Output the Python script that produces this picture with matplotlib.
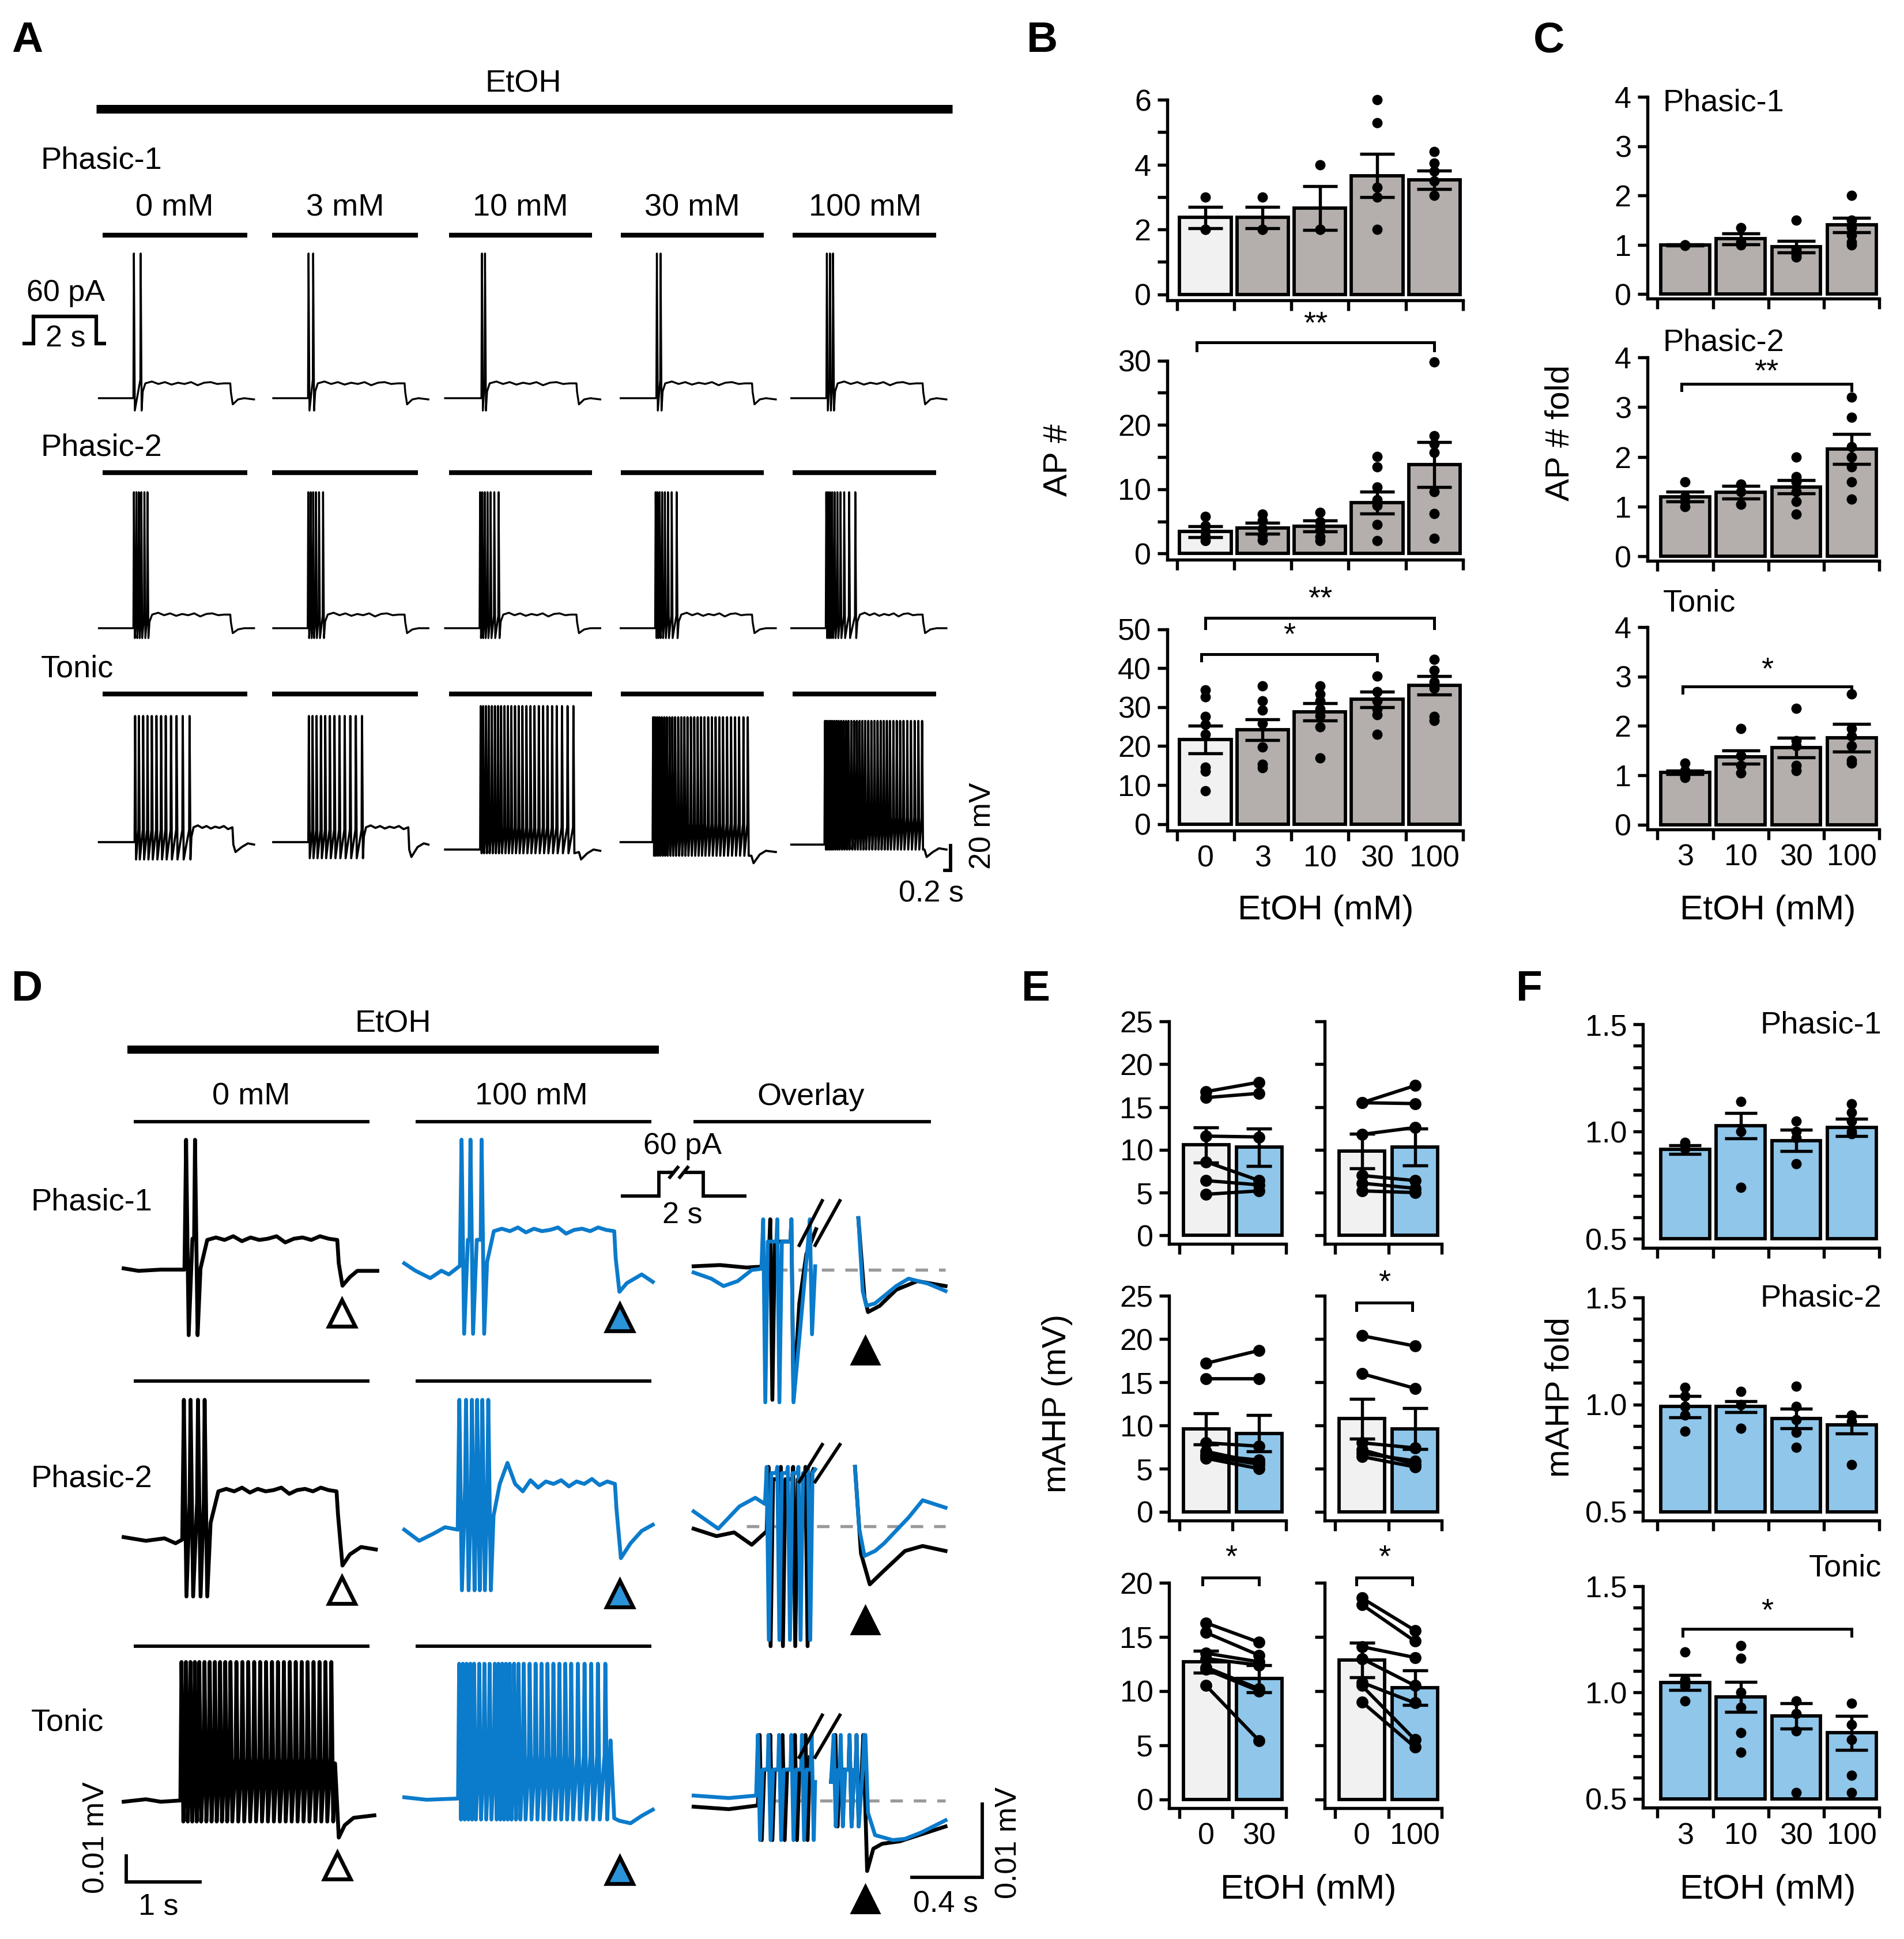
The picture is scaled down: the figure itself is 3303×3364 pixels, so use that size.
import numpy as np
import matplotlib
matplotlib.use("Agg")
import matplotlib.pyplot as plt
from matplotlib.lines import Line2D

plt.rcParams['font.family'] = ['Liberation Sans', 'DejaVu Sans']
plt.rcParams['axes.unicode_minus'] = False

# ---------------- bar chart data ----------------
conc_b = ['0', '3', '10', '30', '100']
conc_c = ['3', '10', '30', '100']

b_p1_mean = [2.37, 2.37, 2.66, 3.66, 3.53]
b_p1_sem = [0.33, 0.33, 0.67, 0.67, 0.28]
b_p1_pts = [[3, 2, 2], [3, 2, 2], [4, 2, 2], [6, 5.3, 3.3, 3.0, 2.0], [4.4, 4.05, 3.8, 3.5, 3.05]]

b_p2_mean = [3.43, 3.94, 4.28, 7.9, 13.8]
b_p2_sem = [0.85, 0.86, 0.86, 1.7, 3.5]
b_p2_pts = [[5.8, 4.3, 3.4, 2.6, 2.0], [6.1, 5.1, 3.9, 2.8, 2.1], [6.4, 5.0, 3.7, 2.6, 2.0],
            [15.1, 13.5, 10.3, 8.4, 7.5, 4.5, 2.0], [29.8, 18.3, 17.1, 15.7, 9.6, 6.2, 2.4]]

b_tn_mean = [21.7, 24.2, 28.8, 32.0, 35.6]
b_tn_sem = [3.6, 2.6, 2.2, 2.0, 2.4]
b_tn_pts = [[34.4, 32.6, 27.6, 25.5, 23.0, 14.6, 13.6, 8.5], [35.4, 31.6, 29.2, 25.9, 19.8, 15.3, 14.5],
            [35.4, 33.4, 31.6, 29.5, 27.8, 24.9, 17.0], [38.0, 34.0, 31.6, 29.5, 28.0, 23.0],
            [42.2, 39.4, 36.5, 34.8, 27.6, 26.6]]

c_p1_mean = [1.0, 1.12, 0.96, 1.4]
c_p1_sem = [0.01, 0.11, 0.12, 0.15]
c_p1_pts = [[1.0, 0.98, 1.0], [1.35, 1.05, 1.0], [1.5, 0.9, 0.8, 0.75], [2.0, 1.5, 1.35, 1.2, 1.05, 1.0]]

c_p2_mean = [1.2, 1.29, 1.4, 2.16]
c_p2_sem = [0.1, 0.13, 0.13, 0.3]
c_p2_pts = [[1.5, 1.2, 1.1, 1.0], [1.45, 1.3, 1.05], [2.0, 1.6, 1.5, 1.3, 1.1, 0.85],
            [3.2, 2.8, 2.2, 2.0, 1.8, 1.5, 1.15]]

c_tn_mean = [1.06, 1.37, 1.56, 1.76]
c_tn_sem = [0.04, 0.13, 0.2, 0.28]
c_tn_pts = [[1.25, 1.1, 1.0, 0.95], [1.95, 1.4, 1.2, 1.05], [2.35, 1.7, 1.6, 1.2, 1.1],
            [2.65, 1.95, 1.8, 1.6, 1.3, 1.25]]

# mAHP (mV), paired cells: control (0 mM) vs EtOH
e_p1_30_mean, e_p1_30_sem = [10.56, 10.3], [2.05, 2.2]
e_p1_30_ctrl = [16.8, 16.1, 11.6, 8.6, 6.4, 4.8]
e_p1_30_etoh = [17.9, 16.6, 11.5, 6.4, 5.9, 5.2]
e_p1_100_mean, e_p1_100_sem = [9.86, 10.3], [2.0, 2.15]
e_p1_100_ctrl = [15.5, 15.5, 11.8, 7.0, 6.1, 5.2]
e_p1_100_etoh = [17.5, 15.4, 12.6, 6.4, 5.5, 5.0]
e_p2_30_mean, e_p2_30_sem = [9.64, 9.09], [1.8, 2.1]
e_p2_30_ctrl = [17.2, 15.4, 8.0, 7.0, 6.5, 6.2, 6.6]
e_p2_30_etoh = [18.7, 15.4, 7.6, 5.7, 5.5, 5.0, 6.0]
e_p2_100_mean, e_p2_100_sem = [10.8, 9.64], [2.3, 2.35]
e_p2_100_ctrl = [20.4, 16.0, 8.0, 7.2, 6.4, 6.8]
e_p2_100_etoh = [19.2, 14.3, 7.4, 5.5, 5.2, 5.9]
e_tn_30_mean, e_tn_30_sem = [12.7, 11.16], [1.0, 1.25]
e_tn_30_ctrl = [16.3, 15.4, 13.5, 13.0, 12.2, 10.5, 12.0]
e_tn_30_etoh = [14.5, 13.3, 12.7, 12.4, 10.2, 5.4, 10.0]
e_tn_100_mean, e_tn_100_sem = [12.87, 10.3], [1.6, 1.6]
e_tn_100_ctrl = [18.6, 18.0, 14.1, 13.0, 10.8, 10.5, 9.0]
e_tn_100_etoh = [15.6, 14.6, 13.1, 10.5, 8.9, 5.5, 4.8]

f_p1_mean = [0.917, 1.028, 0.958, 1.02]
f_p1_sem = [0.02, 0.06, 0.05, 0.04]
f_p1_pts = [[0.95, 0.92], [1.14, 1.0, 0.74], [1.05, 1.0, 0.97, 0.85], [1.13, 1.09, 1.05, 1.0, 0.99]]
f_p2_mean = [0.99, 0.99, 0.935, 0.905]
f_p2_sem = [0.05, 0.025, 0.045, 0.04]
f_p2_pts = [[1.08, 1.04, 0.99, 0.95, 0.875], [1.06, 1.0, 0.89], [1.086, 0.99, 0.93, 0.87, 0.8],
            [0.95, 0.92, 0.72]]
f_tn_mean = [1.046, 0.98, 0.89, 0.81]
f_tn_sem = [0.035, 0.07, 0.06, 0.08]
f_tn_pts = [[1.19, 1.06, 1.03, 0.96], [1.22, 1.16, 1.0, 0.93, 0.81, 0.72], [0.96, 0.9, 0.82, 0.53],
            [0.95, 0.85, 0.78, 0.61, 0.53]]

# ---------------- trace data (s, mV) ----------------
a_p1_spikes = [[1.12, 1.34], [1.13, 1.28], [1.18, 1.28], [1.16, 1.28], [1.14, 1.24, 1.34]]
a_p2_spikes = [[1.12, 1.2, 1.28, 1.36, 1.46, 1.56],
               [1.12, 1.2, 1.28, 1.37, 1.47, 1.6],
               [1.12, 1.19, 1.27, 1.36, 1.46, 1.58, 1.72],
               [1.12, 1.18, 1.25, 1.33, 1.42, 1.52, 1.64, 1.8],
               [1.12, 1.18, 1.24, 1.31, 1.39, 1.48, 1.58, 1.7, 1.86, 2.06]]
a_tn_spikes = [[1.16, 1.28, 1.42, 1.56, 1.7, 1.85, 2.0, 2.15, 2.32, 2.5, 2.7, 2.92],
               [1.14, 1.26, 1.39, 1.53, 1.67, 1.82, 1.97, 2.13, 2.3, 2.48, 2.66, 2.86],
               [1.14, 1.22, 1.31, 1.4, 1.5, 1.6, 1.7, 1.8, 1.91, 2.02, 2.13, 2.25, 2.37, 2.49,
                2.62, 2.75, 2.88, 3.02, 3.16, 3.3, 3.45, 3.6, 3.77, 3.95, 4.14],
               [1.04, 1.1, 1.17, 1.24, 1.32, 1.4, 1.48, 1.57, 1.66, 1.75, 1.85, 1.95, 2.05, 2.15,
                2.26, 2.37, 2.48, 2.59, 2.7, 2.82, 2.94, 3.06, 3.18, 3.3, 3.43, 3.56, 3.69, 3.82,
                3.96, 4.1],
               [1.08, 1.13, 1.19, 1.25, 1.31, 1.38, 1.45, 1.52, 1.6, 1.68, 1.76, 1.84, 1.93, 2.02,
                2.11, 2.2, 2.29, 2.38, 2.48, 2.58, 2.68, 2.78, 2.88, 2.98, 3.08, 3.18, 3.29, 3.4,
                3.51, 3.62, 3.74, 3.86, 3.98, 4.1, 4.22]]
a_tn_rest = [-60, -60, -66, -60, -62]
a_tn_peak = [42, 42, 50, 41, 38]
a_tn_trough = [-74, -73, -69, -71, -66]
a_tn_thr = [-50, -50, -48, -45, -40]
a_tn_plat = [-48, -48, None, None, None]
a_tn_off = [4.32, 4.37, 4.3, 4.2, 4.28]
a_tn_dip = [-68, -72, -74, -77, -72]
a_tn_end = [-62, -62, -67, -68, -66]
a_ripple = [1.5, -0.5, 1.0, -1.0, 0.5, -0.5, 1.0, -1.5, 0.5, 1.0, -0.5, 0.0]

d_p1_ctrl_spikes = [0.83, 0.95]
d_p1_etoh_spikes = [0.76, 0.88, 1.03]
d_p2_ctrl_spikes = [0.80, 0.89, 0.99, 1.08]
d_p2_etoh_spikes = [0.73, 0.82, 0.90, 0.97, 1.04, 1.12]
d_tn_ctrl_spikes = [0.77, 0.83, 0.89, 0.95, 1.01, 1.08, 1.15, 1.22, 1.29, 1.36, 1.43, 1.51, 1.59,
                    1.67, 1.75, 1.83, 1.91, 1.99, 2.07, 2.15, 2.23, 2.31, 2.39, 2.47, 2.55, 2.63,
                    2.71, 2.79]
d_tn_etoh_spikes = [0.73, 0.78, 0.83, 0.88, 0.93, 1.0, 1.07, 1.14, 1.21, 1.26, 1.31, 1.36, 1.41,
                    1.47, 1.53, 1.6, 1.68, 1.76, 1.84, 1.92, 2.0, 2.08, 2.16, 2.24, 2.33, 2.42,
                    2.51, 2.6, 2.7]
d_ripple_a = [2, 0, 3, -1, 2, 0, 1, 3, -2, 1, 2, 0, 3, 1]
d_ripple_b = [17, 0, -6, 3, -3, 2, 0, 3, -2, 2, 0, 4, -1, 2]

BLUE = '#0b7bcb'
BLUE_BAR = '#8fc6ea'
BLUE_TRI = '#2b93d8'
LIGHT = '#f1f1f1'
GRAY = '#b4afac'
LW = 1.3

fig = plt.figure(figsize=(3303 / 300, 3364 / 300), dpi=300)
W, H = 1540.0, 1568.0


def fbox(x0, y0, x1, y1):
    return [x0 / W, 1 - y1 / H, (x1 - x0) / W, (y1 - y0) / H]


def ftext(x, y, s, size=13, **kw):
    kw.setdefault('ha', 'center')
    kw.setdefault('va', 'center')
    fig.text(x / W, 1 - y / H, s, fontsize=size, **kw)


def fline(xs, ys, lw=1.4, color='k'):
    fig.add_artist(Line2D([x / W for x in xs], [1 - y / H for y in ys], transform=fig.transFigure,
                          lw=lw, color=color, solid_capstyle='butt', solid_joinstyle='miter'))


# ---------------- helpers: traces ----------------
def trace_ax(x0, y_ref, t_max, px_s, v_ref=-60.0, v_lo=-200.0, v_hi=100.0):
    ax = fig.add_axes(fbox(x0, y_ref - (v_hi - v_ref), x0 + t_max * px_s, y_ref + (v_ref - v_lo)))
    ax.set_xlim(0, t_max)
    ax.set_ylim(v_lo, v_hi)
    ax.axis('off')
    return ax


def spike_pts(spikes, peak, trough, thr, rise, fall, rec=None):
    t, v = [], []
    for i, ts in enumerate(spikes):
        if i:
            if rec is not None and t[-1] + rec < ts:
                t.append(t[-1] + rec)
                v.append(thr)
            t.append(ts)
            v.append(thr)
        t += [ts + rise, ts + rise + fall]
        v += [peak, trough]
    return t, v


def make_trace(base_t, base_v, spikes, peak, trough, thr, rise, fall, plat=None, settle=0.1,
               ripple=(), t_off=None, tail_t=(), tail_v=(), rec=None):
    t, v = list(base_t), list(base_v)
    st, sv = spike_pts(spikes, peak, trough, thr, rise, fall, rec)
    t += st
    v += sv
    if plat is not None:
        tl = t[-1]
        t += [tl + 0.3 * settle, tl + settle]
        v += [trough + 0.7 * (plat - trough), plat]
        if len(ripple):
            tr = np.linspace(tl + settle, t_off, len(ripple) + 2)[1:-1]
            t += list(tr)
            v += [plat + r for r in ripple]
        t.append(t_off)
        v.append(plat)
    t += list(tail_t)
    v += list(tail_v)
    return t, v


# ---------------- helpers: bar panels ----------------
def bar_axes(x_spine, x_c0, pitch, n, y_top, y_zero, v_top, v_bot, v_zero=0.0):
    ppu = (y_zero - y_top) / (v_top - v_zero)
    y_bot = y_zero + (v_zero - v_bot) * ppu
    x_right = n - 0.5
    ax = fig.add_axes(fbox(x_spine, y_top, x_c0 + x_right * pitch, y_bot))
    ax.set_xlim((x_spine - x_c0) / pitch, x_right)
    ax.set_ylim(v_bot, v_top)
    for s in ('top', 'right'):
        ax.spines[s].set_visible(False)
    for s in ('left', 'bottom'):
        ax.spines[s].set_linewidth(LW)
    ax.set_xticks(np.arange(n + 1) - 0.5)
    ax.set_xticklabels([])
    ax.tick_params(which='major', length=4.2, width=LW, labelsize=12.5, pad=2.5)
    ax.tick_params(axis='x', which='minor', length=0, labelsize=12.5, pad=6)
    ax.patch.set_alpha(0)
    return ax


def set_yticks(ax, ticks, labels):
    ax.set_yticks(ticks)
    ax.set_yticklabels(labels)


def set_xlabels(ax, labels):
    ax.set_xticks(np.arange(len(labels)), minor=True)
    ax.set_xticklabels(labels, minor=True)


def draw_bars(ax, means, sems, pts, colors, width, capsize, base=0.0, ms=4.3):
    x = np.arange(len(means))
    ax.bar(x, np.array(means) - base, bottom=base, width=width, color=colors,
           edgecolor='k', linewidth=1.4, zorder=2)
    ax.errorbar(x, means, yerr=sems, fmt='none', ecolor='k', elinewidth=LW,
                capsize=capsize, capthick=LW, zorder=4)
    for xi, p in zip(x, pts):
        ax.plot(np.full(len(p), xi), p, 'o', color='k', ms=ms, mew=0, zorder=3, clip_on=False)


def bracket(ax, x0, x1, y, drop, star, y_star):
    ax.plot([x0, x0, x1, x1], [y - drop, y, y, y - drop], color='k', lw=1.2, clip_on=False,
            solid_joinstyle='miter')
    ax.text((x0 + x1) / 2, y_star, star, ha='center', va='center', fontsize=13)


# ================= Panel A =================
ftext(22, 33, 'A', size=18, weight='bold')
ftext(423, 68, 'EtOH')
fline([78, 770], [88, 88], lw=3.6)
a_conc = ['0 mM', '3 mM', '10 mM', '30 mM', '100 mM']
for cx, lab in zip([141, 279, 421, 560, 700], a_conc):
    ftext(cx, 168, lab)
a_bar_x = [(83, 200), (220, 338), (363, 479), (502, 618), (641, 757)]
for yb in (190, 382, 561):
    for xa, xb in a_bar_x:
        fline([xa, xb], [yb, yb], lw=2.0)
ftext(33, 130, 'Phasic-1', ha='left')
ftext(33, 362, 'Phasic-2', ha='left')
ftext(33, 541, 'Tonic', ha='left')

# stimulation protocol
fline([18, 27, 27, 78, 78, 86], [278, 278, 256, 256, 278, 278], lw=1.5)
ftext(53, 237, '60 pA', size=12.5)
ftext(53, 274, '2 s', size=12.5)

A_PX_S = 25.0
a_x0 = [80, 221, 360, 502, 640]
for k in range(5):
    sp = a_p1_spikes[k]
    ax = trace_ax(a_x0[k], 322, 5.1, A_PX_S)
    t, v = make_trace([0, sp[0] - 0.005], [-60, -60], sp, 57, -70, -45, 0.012, 0.03,
                      plat=-48, settle=0.12, ripple=a_ripple, t_off=4.25,
                      tail_t=[4.27, 4.33, 4.5, 4.7, 5.02], tail_v=[-55, -65, -61, -60, -61])
    ax.plot(t, v, color='k', lw=0.8, clip_on=False)

    sp = a_p2_spikes[k]
    ax = trace_ax(a_x0[k], 508, 5.1, A_PX_S)
    t, v = make_trace([0, sp[0] - 0.005], [-60, -60], sp, 50, -68, -50, 0.012, 0.03,
                      plat=-49, settle=0.12, ripple=a_ripple, t_off=4.25,
                      tail_t=[4.27, 4.33, 4.5, 4.7, 5.02], tail_v=[-55, -64, -61, -60, -60])
    ax.plot(t, v, color='k', lw=0.8, clip_on=False)

    sp = a_tn_spikes[k]
    ax = trace_ax(a_x0[k], 681, 5.1, A_PX_S)
    off = a_tn_off[k]
    rest = a_tn_rest[k]
    t, v = make_trace([0, sp[0] - 0.005], [rest, rest], sp, a_tn_peak[k], a_tn_trough[k],
                      a_tn_thr[k], 0.012, 0.03, plat=a_tn_plat[k], settle=0.1,
                      ripple=a_ripple[:8], t_off=off,
                      tail_t=[off + 0.03, off + 0.1, off + 0.3, off + 0.5, 5.02],
                      tail_v=[a_tn_dip[k] + 6, a_tn_dip[k], a_tn_end[k] - 2, a_tn_end[k] + 1,
                              a_tn_end[k]])
    ax.plot(t, v, color='k', lw=0.9, clip_on=False)
    if k == 4:
        # scale bar 0.2 s, 20 mV
        ax.plot([4.96, 5.16, 5.16], [-83, -83, -63], color='k', lw=1.4, clip_on=False,
                solid_joinstyle='miter')
ftext(795, 668, '20 mV', size=12.5, rotation=90)
ftext(753, 723, '0.2 s', size=12.5)

# ================= Panel D =================
ftext(22, 800, 'D', size=18, weight='bold')
ftext(318, 828, 'EtOH')
fline([103, 533], [849, 849], lw=3.4)
ftext(203, 887, '0 mM')
ftext(430, 887, '100 mM')
ftext(656, 887, 'Overlay')
fline([108, 299], [907, 907], lw=1.4)
fline([336, 527], [907, 907], lw=1.4)
fline([561, 753], [907, 907], lw=1.4)
for yb in (1117, 1331):
    fline([108, 299], [yb, yb], lw=1.4)
    fline([336, 527], [yb, yb], lw=1.4)
ftext(25, 972, 'Phasic-1', ha='left')
ftext(25, 1196, 'Phasic-2', ha='left')
ftext(25, 1393, 'Tonic', ha='left')

# stimulation protocol (with break)
fline([502, 533, 533, 545], [967, 967, 948, 948], lw=1.4)
fline([553, 569, 569, 604], [948, 948, 967, 967], lw=1.4)
fline([541, 549], [953, 943], lw=1.4)
fline([549, 557], [953, 943], lw=1.4)
ftext(552, 927, '60 pA', size=12.5)
ftext(552, 983, '2 s', size=12.5)

D_PX_S = 60.0
TR_LW = 1.6
rows_d = [
    # (x0, y_ref, color, trace, triangle (t, v), triangle face)
    (100, 1026.7, 'k',
     make_trace([0, 0.2, 0.5, 0.82], [-59, -61, -60, -60], d_p1_ctrl_spikes, 45, -113, -35,
                0.012, 0.035, plat=-36, settle=0.13, ripple=d_ripple_a, t_off=2.88,
                tail_t=[2.9, 2.95, 3.05, 3.15, 3.42], tail_v=[-55, -73, -66, -61, -61],
                rec=0.05),
     (2.94, -95), 'white'),
    (327, 1027.6, BLUE,
     make_trace([0, 0.15, 0.35, 0.5, 0.6, 0.75], [-54, -60, -66, -60, -63, -56],
                d_p1_etoh_spikes, 46, -111, -35, 0.012, 0.035, plat=-28, settle=0.13,
                ripple=d_ripple_a, t_off=2.83,
                tail_t=[2.85, 2.9, 3.0, 3.2, 3.35], tail_v=[-50, -77, -70, -63, -69],
                rec=0.05),
     (2.9, -98), BLUE_TRI),
    (100, 1245, 'k',
     make_trace([0, 0.3, 0.55, 0.7, 0.79], [-58, -61, -59, -63, -60], d_p2_ctrl_spikes, 53,
                -106, -30, 0.012, 0.035, plat=-21, settle=0.15, ripple=d_ripple_a, t_off=2.87,
                tail_t=[2.89, 2.95, 3.05, 3.2, 3.4], tail_v=[-40, -81, -72, -66, -68]),
     (2.94, -101), 'white'),
    (327, 1240, BLUE,
     make_trace([0, 0.2, 0.4, 0.55, 0.72], [-57, -66, -60, -55, -57], d_p2_etoh_spikes, 48,
                -106, -20, 0.012, 0.035, plat=-20, settle=0.12, ripple=d_ripple_b, t_off=2.84,
                tail_t=[2.86, 2.92, 3.05, 3.2, 3.35], tail_v=[-40, -80, -68, -58, -53]),
     (2.9, -109), BLUE_TRI),
    (100, 1456, 'k',
     make_trace([0, 0.3, 0.5, 0.765], [-61, -59, -61, -60], d_tn_ctrl_spikes, 52, -77, -25,
                0.01, 0.025, tail_t=[2.85, 2.9, 2.98, 3.1, 3.38],
                tail_v=[-30, -90, -80, -74, -72]),
     (2.88, -113), 'white'),
    (327, 1454.4, BLUE,
     make_trace([0, 0.3, 0.725], [-59, -61, -60], d_tn_etoh_spikes, 49, -77, -25, 0.01, 0.025,
                tail_t=[2.77, 2.78, 2.83, 2.9, 3.05, 3.2, 3.35],
                tail_v=[-30, -13, -76, -78, -80, -74, -69]),
     (2.9, -118), BLUE_TRI),
]
d_axes = []
for x0, yref, col, (t, v), (tt, tv), tri_face in rows_d:
    ax = trace_ax(x0, yref, 3.45, D_PX_S)
    ax.plot(t, v, color=col, lw=TR_LW, clip_on=False)
    ax.plot([tt], [tv], marker='^', ms=11, mfc=tri_face, mec='k', mew=1.6, clip_on=False)
    d_axes.append(ax)
# scale bar (left)
d_axes[4].plot([1.033, 0.033, 0.033], [-126, -126, -105], color='k', lw=1.4, clip_on=False,
               solid_joinstyle='miter')
ftext(78, 1486, '0.01 mV', size=12.5, rotation=90)
ftext(128, 1542, '1 s', size=12.5)

# ---- overlay column ----
OV_PX_S = 142.5
SP = dict(rise=0.005, fall=0.012, rec=0.014)
ov_rows = [
    dict(y=1024,
         ctrl=[make_trace([0, 0.15, 0.3, 0.425], [-60, -59, -61, -60], [0.43, 0.55], -22, -168,
                          -40, tail_t=[0.6, 0.64, 0.695], tail_v=[-90, -50, -30], **SP),
               ([0.935, 0.97, 0.99, 1.056, 1.15, 1.27, 1.43],
                [-21, -85, -97, -92, -79, -72, -76])],
         etoh=[make_trace([0, 0.1, 0.17, 0.25, 0.33, 0.385], [-65, -70, -76, -72, -63, -62],
                          [0.39, 0.47, 0.55], -22, -170, -40,
                          tail_t=[0.65, 0.66, 0.672, 0.69], tail_v=[-40, -22, -115, -60], **SP),
               ([0.935, 0.96, 0.98, 1.03, 1.15, 1.22, 1.33, 1.43],
                [-21, -80, -92, -90, -76, -70, -74, -80])],
         dash=(0.46, -63), brk=(-43, -7), tri=-128),
    dict(y=1236.2,
         ctrl=[make_trace([0, 0.13, 0.23, 0.33, 0.415], [-60, -66, -63, -73, -62],
                          [0.42, 0.49, 0.56, 0.63], -10, -155, -20,
                          tail_t=[0.66, 0.68], tail_v=[-20, -12], **SP),
               ([0.916, 0.95, 1.0, 1.08, 1.2, 1.3, 1.43], [-10, -80, -105, -94, -78, -74, -78])],
         etoh=[make_trace([0, 0.14, 0.26, 0.35, 0.405], [-46, -60, -42, -35, -40],
                          [0.41, 0.47, 0.53, 0.59, 0.645], -10, -150, -15,
                          tail_t=[0.675, 0.69], tail_v=[-15, -12], **SP),
               ([0.916, 0.94, 0.97, 1.03, 1.08, 1.22, 1.30, 1.43],
                [-10, -60, -82, -78, -72, -51, -37, -43])],
         dash=(0.30, -58), brk=(-22, 8), tri=-134),
    dict(y=1461,
         ctrl=[make_trace([0, 0.2, 0.365], [-60, -62, -59], [0.37, 0.43, 0.5, 0.57, 0.63], -2,
                          -87, -30, tail_t=[0.66], tail_v=[-20], **SP),
               make_trace([0.78], [-40], [0.80, 0.88, 0.92], -2, -76, -30,
                          tail_t=[0.955, 0.963, 0.985, 1.02, 1.07, 1.17, 1.3, 1.43],
                          tail_v=[-30, -2, -112, -94, -90, -88, -82, -76], **SP)],
         etoh=[make_trace([0, 0.2, 0.355], [-51, -53, -51], [0.36, 0.42, 0.48, 0.55, 0.61, 0.665],
                          -2, -87, -30, tail_t=[0.69], tail_v=[-40], **SP),
               make_trace([0.78], [-40], [0.79, 0.83, 0.88, 0.92], -2, -76, -30,
                          tail_t=[0.96, 0.968, 0.975, 0.99, 1.03, 1.13, 1.2, 1.29, 1.43],
                          tail_v=[-30, -2, -2, -65, -83, -87, -86, -81, -71], **SP)],
         dash=(0.45, -55), brk=(-20, 14), tri=-135),
]
ov_break_t = [(0.60, 0.73), (0.69, 0.83)]
ov_axes = []
for row in ov_rows:
    ax = trace_ax(561, row['y'], 1.45, OV_PX_S)
    ax.plot([row['dash'][0], 1.43], [row['dash'][1]] * 2, color='#9a9a9a', lw=1.3,
            ls=(0, (4, 3.5)), clip_on=False)
    for t, v in row['ctrl']:
        ax.plot(t, v, color='k', lw=TR_LW, clip_on=False)
    for t, v in row['etoh']:
        ax.plot(t, v, color=BLUE, lw=TR_LW, clip_on=False)
    for ta, tb in ov_break_t:
        ax.plot([ta, tb], list(row['brk']), color='k', lw=1.4, clip_on=False)
    ax.plot([0.974], [row['tri']], marker='^', ms=11, mfc='k', mec='k', mew=1.2, clip_on=False)
    ov_axes.append(ax)
ov_axes[2].plot([1.239, 1.639, 1.639], [-117, -117, -58], color='k', lw=1.4, clip_on=False,
                solid_joinstyle='miter')
ftext(816, 1490, '0.01 mV', size=12.5, rotation=90)
ftext(765, 1540, '0.4 s', size=12.5)

# ================= Panel B =================
ftext(843, 33, 'B', size=18, weight='bold')
B_X = dict(x_spine=944, x_c0=975, pitch=46.3, n=5)
b_colors = [LIGHT] + [GRAY] * 4

ax = bar_axes(y_top=80.7, y_zero=238, v_top=6, v_bot=-0.19, **B_X)
draw_bars(ax, b_p1_mean, b_p1_sem, b_p1_pts, b_colors, 0.9, 7.2)
set_yticks(ax, range(0, 7), ['0', '', '2', '', '4', '', '6'])

ax = bar_axes(y_top=291.6, y_zero=447.6, v_top=30, v_bot=-1.0, **B_X)
draw_bars(ax, b_p2_mean, b_p2_sem, b_p2_pts, b_colors, 0.9, 7.2)
set_yticks(ax, range(0, 31, 5), ['0', '', '10', '', '20', '', '30'])
bracket(ax, -0.15, 4, 32.8, 1.2, '**', 35.6)

ax = bar_axes(y_top=508.8, y_zero=666.4, v_top=50, v_bot=-1.6, **B_X)
draw_bars(ax, b_tn_mean, b_tn_sem, b_tn_pts, b_colors, 0.9, 7.2)
set_yticks(ax, range(0, 51, 10), [str(i) for i in range(0, 51, 10)])
set_xlabels(ax, conc_b)
bracket(ax, 0, 4, 52.9, 2.7, '**', 57.6)
bracket(ax, -0.07, 3, 43.6, 1.7, '*', 48.3)
ftext(856, 372, 'AP #', size=14, rotation=90)
ftext(1072, 736, 'EtOH (mM)', size=14.5)

# ================= Panel C =================
ftext(1253, 33, 'C', size=18, weight='bold')
C_X = dict(x_spine=1332.4, x_c0=1363, pitch=44.9, n=4)
c_specs = [(78.4, 237.8, c_p1_mean, c_p1_sem, c_p1_pts),
           (289, 450, c_p2_mean, c_p2_sem, c_p2_pts),
           (507, 667, c_tn_mean, c_tn_sem, c_tn_pts)]
c_axes = []
for yt, yz, m, s, p in c_specs:
    ax = bar_axes(y_top=yt, y_zero=yz, v_top=4, v_bot=-0.09, **C_X)
    draw_bars(ax, m, s, p, [GRAY] * 4, 0.88, 8.0)
    set_yticks(ax, range(0, 5), [str(i) for i in range(5)])
    c_axes.append(ax)
set_xlabels(c_axes[2], conc_c)
bracket(c_axes[1], -0.07, 3, 3.47, 0.13, '**', 3.7)
bracket(c_axes[2], -0.05, 3, 2.8, 0.13, '*', 3.12)
ftext(1345, 83, 'Phasic-1', ha='left')
ftext(1345, 277, 'Phasic-2', ha='left')
ftext(1345, 488, 'Tonic', ha='left')
ftext(1262, 350, 'AP # fold', size=14, rotation=90)
ftext(1430, 736, 'EtOH (mM)', size=14.5)

# ================= Panel E =================
ftext(838, 800, 'E', size=18, weight='bold')
E_L = dict(x_spine=945.7, x_c0=975.5, pitch=43.0, n=2)
E_R = dict(x_spine=1071.5, x_c0=1101.5, pitch=43.0, n=2)
e_specs = [
    (826, 999, 25, -1.0, E_L, e_p1_30_mean, e_p1_30_sem, e_p1_30_ctrl, e_p1_30_etoh),
    (826, 999, 25, -1.0, E_R, e_p1_100_mean, e_p1_100_sem, e_p1_100_ctrl, e_p1_100_etoh),
    (1048, 1222.6, 25, -1.0, E_L, e_p2_30_mean, e_p2_30_sem, e_p2_30_ctrl, e_p2_30_etoh),
    (1048, 1222.6, 25, -1.0, E_R, e_p2_100_mean, e_p2_100_sem, e_p2_100_ctrl, e_p2_100_etoh),
    (1280, 1455, 20, -0.8, E_L, e_tn_30_mean, e_tn_30_sem, e_tn_30_ctrl, e_tn_30_etoh),
    (1280, 1455, 20, -0.8, E_R, e_tn_100_mean, e_tn_100_sem, e_tn_100_ctrl, e_tn_100_etoh),
]
e_axes = []
for i, (yt, yz, vt, vb, ex, m, s, c0, c1) in enumerate(e_specs):
    ax = bar_axes(y_top=yt, y_zero=yz, v_top=vt, v_bot=vb, **ex)
    ax.bar([0, 1], m, width=0.86, color=[LIGHT, BLUE_BAR], edgecolor='k', linewidth=1.4, zorder=2)
    for a, b in zip(c0, c1):
        ax.plot([0, 1], [a, b], '-o', color='k', lw=1.4, ms=5, mew=0, zorder=3, clip_on=False)
    ax.errorbar([0, 1], m, yerr=s, fmt='none', ecolor='k', elinewidth=LW, capsize=5.2,
                capthick=LW, zorder=4)
    if i % 2 == 0:
        set_yticks(ax, range(0, vt + 1, 5), [str(k) for k in range(0, vt + 1, 5)])
    else:
        set_yticks(ax, range(0, vt + 1, 5), [''] * (vt // 5 + 1))
    e_axes.append(ax)
set_xlabels(e_axes[4], ['0', '30'])
set_xlabels(e_axes[5], ['0', '100'])
bracket(e_axes[3], -0.1, 0.95, 24.2, 0.85, '*', 26.5)
bracket(e_axes[4], -0.07, 1.0, 20.5, 0.65, '*', 22.3)
bracket(e_axes[5], -0.1, 0.95, 20.5, 0.65, '*', 22.3)
ftext(855, 1135, 'mAHP (mV)', size=14, rotation=90)
ftext(1058, 1528, 'EtOH (mM)', size=14.5)

# ================= Panel F =================
ftext(1237, 800, 'F', size=18, weight='bold')
F_X = dict(x_spine=1329, x_c0=1363, pitch=44.9, n=4)
f_specs = [(828.4, 1001.8, f_p1_mean, f_p1_sem, f_p1_pts),
           (1049, 1222.5, f_p2_mean, f_p2_sem, f_p2_pts),
           (1282.6, 1454.7, f_tn_mean, f_tn_sem, f_tn_pts)]
f_axes = []
f_ticks = np.round(np.arange(0.5, 1.501, 0.1), 2)
f_labels = ['0.5', '', '', '', '', '1.0', '', '', '', '', '1.5']
for yt, yz, m, s, p in f_specs:
    ax = bar_axes(y_top=yt, y_zero=yz, v_top=1.5, v_bot=0.458, v_zero=0.5, **F_X)
    draw_bars(ax, m, s, p, [BLUE_BAR] * 4, 0.88, 6.7, base=0.5)
    set_yticks(ax, f_ticks, f_labels)
    f_axes.append(ax)
set_xlabels(f_axes[2], conc_c)
bracket(f_axes[2], -0.05, 3, 1.298, 0.033, '*', 1.38)
ftext(1522, 829, 'Phasic-1', ha='right')
ftext(1522, 1050, 'Phasic-2', ha='right')
ftext(1522, 1268, 'Tonic', ha='right')
ftext(1262, 1130, 'mAHP fold', size=14, rotation=90)
ftext(1430, 1528, 'EtOH (mM)', size=14.5)

fig.savefig('out.png', dpi=300)
